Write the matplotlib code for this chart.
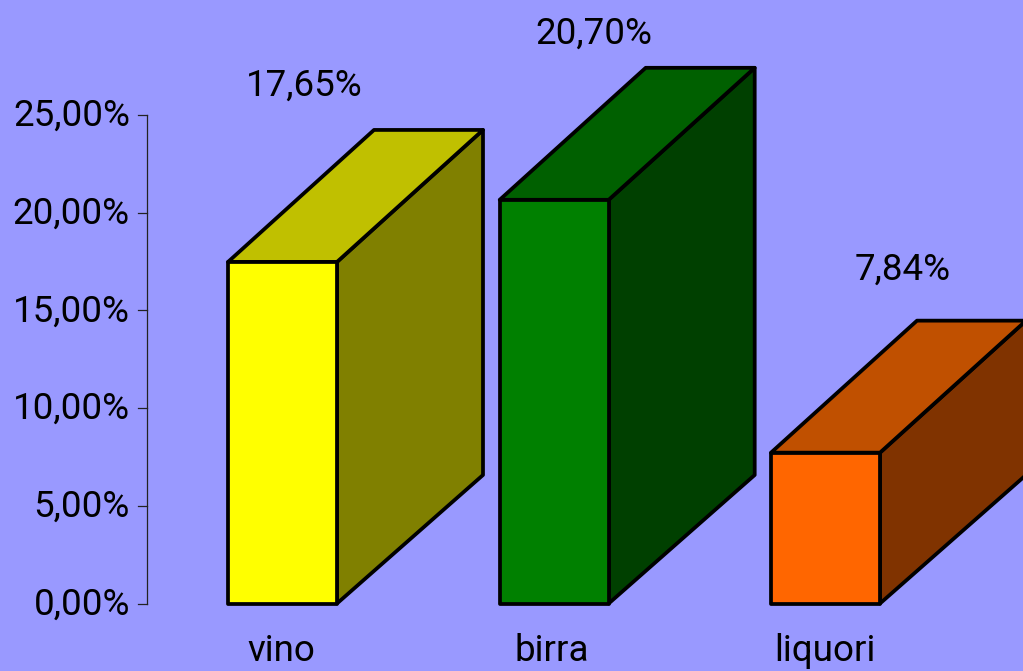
import matplotlib
matplotlib.use("Agg")
import matplotlib.pyplot as plt
from matplotlib.patches import Polygon

categories = ["vino", "birra", "liquori"]
# bar heights as drawn in the picture, printed labels alongside
values = [17.48, 20.66, 7.72]
value_labels = ["17,65%", "20,70%", "7,84%"]
front_colors = ["#FFFF00", "#008000", "#FF6600"]
top_colors = ["#C0C000", "#006000", "#C05000"]
side_colors = ["#808000", "#004000", "#803300"]
ticks = [0, 5, 10, 15, 20, 25]
tick_labels = ["0,00%", "5,00%", "10,00%", "15,00%", "20,00%", "25,00%"]

plt.rcParams['font.family'] = ['Roboto', 'Liberation Sans', 'DejaVu Sans']
W, H = 1023, 671
bg = "#9999FF"
fig = plt.figure(figsize=(W/100, H/100), dpi=100, facecolor=bg)
ax = fig.add_axes([0, 0, 1, 1])
ax.set_facecolor(bg)
ax.axis("off")
ax.set_xlim(0, W)
y0 = 603.5
px_per = (y0-115)/25
ax.set_ylim(-(H-y0)/px_per, y0/px_per)
dy_top = 132/px_per
dy_bot = 128.5/px_per
dx = 146
bw = 109
lefts = [228, 499.7, 771]
label_x = [281, 552, 825]
val_x = [304, 594, 903]
val_off = [(262-96)/px_per, (200-44)/px_per, (453-280)/px_per]
lab_base = -(661-y0)/px_per
tick_base = 11/px_per
lw = 2.7
fs = 26.5

for l, v, fc, tc, sc, name, vl, lx, vx, vo in zip(lefts, values, front_colors, top_colors, side_colors, categories, value_labels, label_x, val_x, val_off):
    r = l + bw
    kw = dict(ec="black", lw=lw, joinstyle="round")
    ax.add_patch(Polygon([(r, 0), (r+dx, dy_bot), (r+dx, v+dy_top), (r, v)], fc=sc, **kw))
    ax.add_patch(Polygon([(l, v), (l+dx, v+dy_top), (r+dx, v+dy_top), (r, v)], fc=tc, **kw))
    ax.add_patch(Polygon([(l, 0), (l, v), (r, v), (r, 0)], fc=fc, **kw))
    ax.text(vx, v+vo, vl, fontsize=fs, ha="center", va="baseline", color="black")
    ax.text(lx, lab_base, name, fontsize=fs, ha="center", va="baseline", color="black")

ax.plot([146.7, 146.7], [0, 25], color="#222222", lw=0.9)
for t, lab in zip(ticks, tick_labels):
    ax.plot([137.5, 146.7], [t, t], color="#222222", lw=0.9)
    ax.text(130, t-tick_base, lab, fontsize=fs, ha="right", va="baseline", color="black")

fig.savefig("out.png", dpi=100, facecolor=bg)
